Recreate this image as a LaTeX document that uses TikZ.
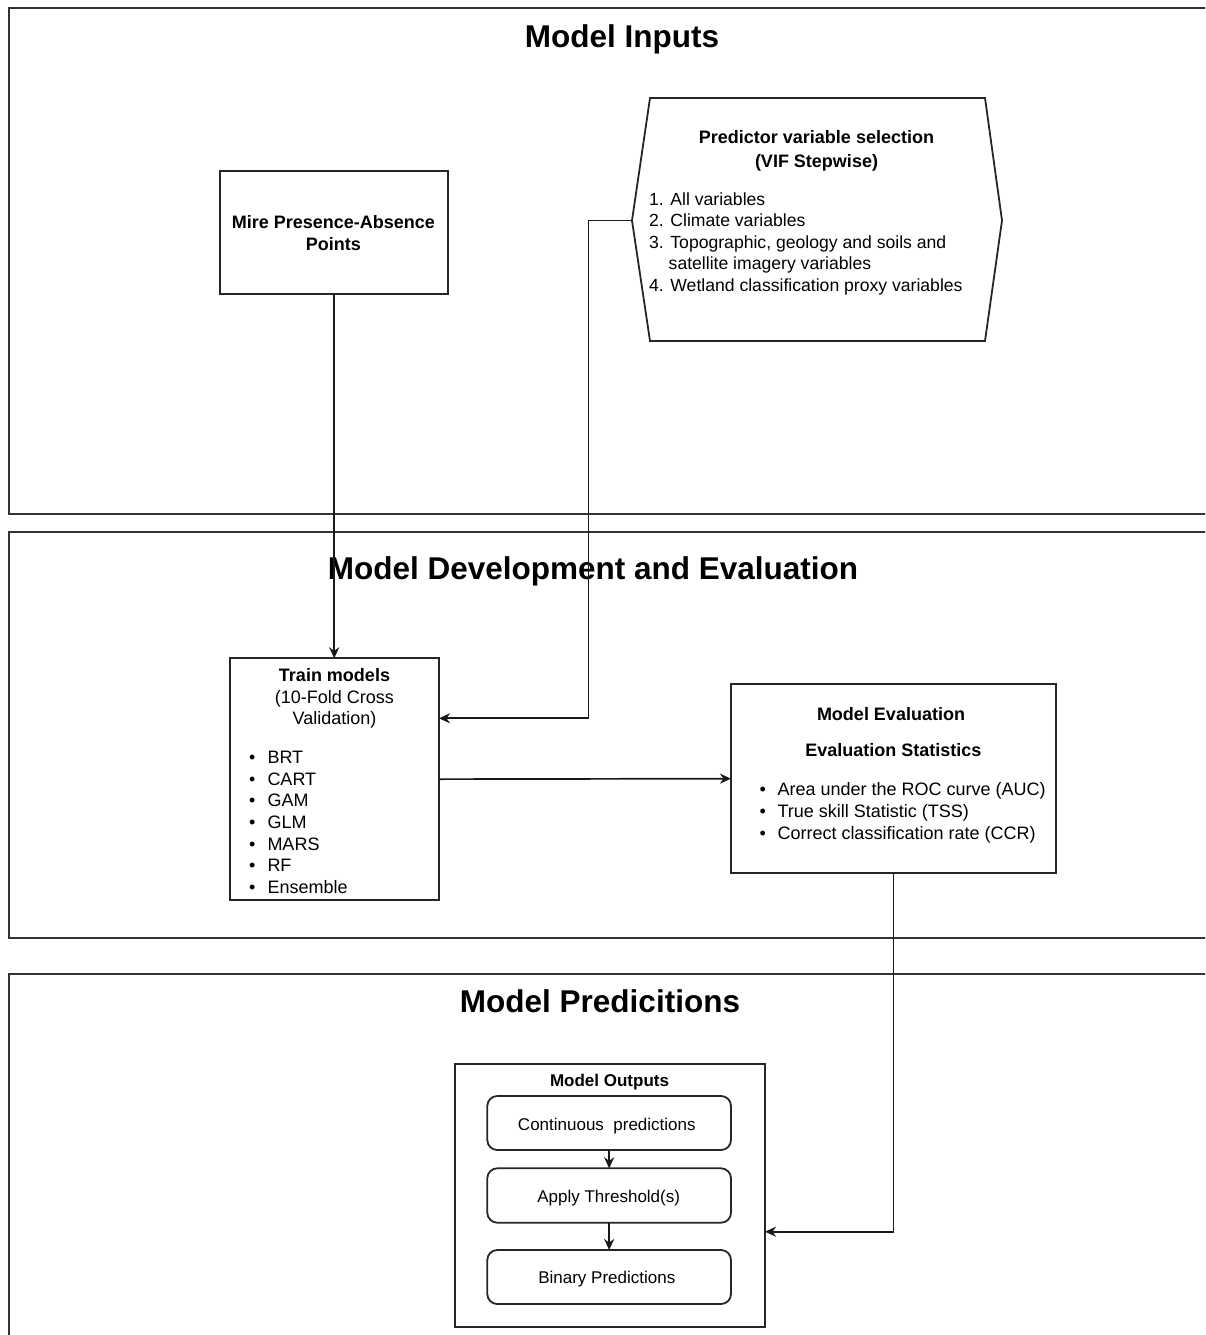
\documentclass[tikz,border=0pt]{standalone}
\usepackage{fontspec}
\setmainfont{Liberation Sans}
\usetikzlibrary{arrows.meta}
\begin{document}
\begin{tikzpicture}[x=1pt,y=-1pt,
  panel/.style={draw=black!80,line width=2pt},
  box/.style={draw=black!85,line width=1.8pt,inner sep=0pt,outer sep=0pt},
  roundbox/.style={box,rounded corners=10pt},
  link/.style={draw=black!90,line width=1.7pt,-{Stealth[length=11pt,width=10pt,inset=3.5pt]}},
  headline/.style={inner sep=0pt,anchor=base,font=\fontsize{31.5}{38}\selectfont\bfseries},
  bold/.style={inner sep=0pt,anchor=base,font=\fontsize{18}{22}\selectfont\bfseries},
  plain/.style={inner sep=0pt,anchor=base,font=\fontsize{18}{22}\selectfont},
  plainL/.style={plain,anchor=base west},
  listL/.style={plainL,font=\fontsize{17.6}{22}\selectfont},
  small/.style={inner sep=0pt,anchor=base,font=\fontsize{17}{21}\selectfont},
  smallbold/.style={small,font=\fontsize{17}{21}\selectfont\bfseries},
]
\useasboundingbox (0,0) rectangle (1205,1335);

% three stacked panels, open past the right and bottom edges
\begin{scope}
  \clip (0,0) rectangle (1205,1335);
  \draw[panel] (9,8) rectangle (1230,514);
  \draw[panel] (9,532) rectangle (1230,938);
  \draw[panel] (9,974) rectangle (1230,1360);
\end{scope}

% panel headings
\node[headline] (hInputs) at (622,47.3) {Model Inputs};
\node[headline] (hDev) at (593,579.3) {Model Development and Evaluation};
\node[headline] (hPred) at (600,1012.3) {Model Predicitions};

% --- Model inputs ---
\node[box,minimum width=228.3pt,minimum height=123.6pt] (mire) at (334.2,232.5) {};
\node[bold] (mire1) at (333.4,228.65) {Mire Presence-Absence};
\node[bold] (mire2) at (333.4,250.65) {Points};

\draw[box] (650,98) -- (985,98) -- (1002,220.5) -- (985,341) -- (650,341) -- (632,220.5) -- cycle;
\coordinate (hexL) at (632,220.5);
\node[bold] (sel1) at (816.5,143.95) {Predictor variable selection};
\node[bold] (sel2) at (816.5,167.45) {(VIF Stepwise)};
\node[listL] (v1) at (649,205.25) {1. All variables};
\node[listL] (v2) at (649,226.75) {2. Climate variables};
\node[listL] (v3) at (649,248.15) {3. Topographic, geology and soils and};
\node[listL] (v3b) at (668.5,269.65) {satellite imagery variables};
\node[listL] (v4) at (649,291.15) {4. Wetland classification proxy variables};

% --- Model development and evaluation ---
\node[box,minimum width=209pt,minimum height=241.7pt] (train) at (334.5,779.15) {};
\node[bold] (tr1) at (334.5,681.25) {Train models};
\node[plain] (tr2) at (334.5,703.15) {(10-Fold Cross};
\node[plain] (tr3) at (334.5,724.95) {Validation)};
\foreach \t [count=\i from 0] in {BRT,CART,GAM,GLM,MARS,RF,Ensemble} {
  \node[plain] (tb\i) at (252.3,{763.45+21.67*\i}) {•};
  \node[plainL] (tm\i) at (267.3,{763.45+21.67*\i}) {\t};
}

\node[box,minimum width=324.7pt,minimum height=189.3pt] (eval) at (893.35,778.65) {};
\node[bold] (ev1) at (891,720.65) {Model Evaluation};
\node[bold] (ev2) at (893.3,756.15) {Evaluation Statistics};
\foreach \t [count=\i from 0] in {Area under the ROC curve (AUC),True skill Statistic (TSS),Correct classification rate (CCR)} {
  \node[plain] (eb\i) at (762.7,{795.95+21.7*\i}) {•};
  \node[plainL] (em\i) at (777.3,{795.95+21.7*\i}) {\t};
}

% --- Model predictions ---
\node[box,minimum width=310pt,minimum height=262.7pt] (outputs) at (610,1195.35) {};
\node[smallbold] (outT) at (609.5,1086.1) {Model Outputs};
\node[roundbox,minimum width=243.7pt,minimum height=54pt] (cont) at (609.15,1123) {};
\node[roundbox,minimum width=243.7pt,minimum height=54.4pt] (thr) at (609.15,1195.5) {};
\node[roundbox,minimum width=243.7pt,minimum height=54pt] (bin) at (609.15,1277) {};
\node[small] (contT) at (606.8,1130.6) {Continuous~ predictions};
\node[small] (thrT) at (608.7,1202.8) {Apply Threshold(s)};
\node[small] (binT) at (606.8,1283.1) {Binary Predictions};

% connectors
\coordinate (trainIn) at ([yshift=60.85pt]train.east);
\coordinate (outIn) at ([yshift=-36.35pt]outputs.east);
\draw[link] (mire.south) -- (mire.south |- train.north);
\draw[link] (hexL) -- ++(-43.5,0) |- (trainIn);
\draw[link] (train.east) -- (eval.west);
\draw[link] (eval.south) |- (outIn);
\draw[link] (cont.south) -- (thr.north);
\draw[link] (thr.south) -- (bin.north);
\end{tikzpicture}
\end{document}
